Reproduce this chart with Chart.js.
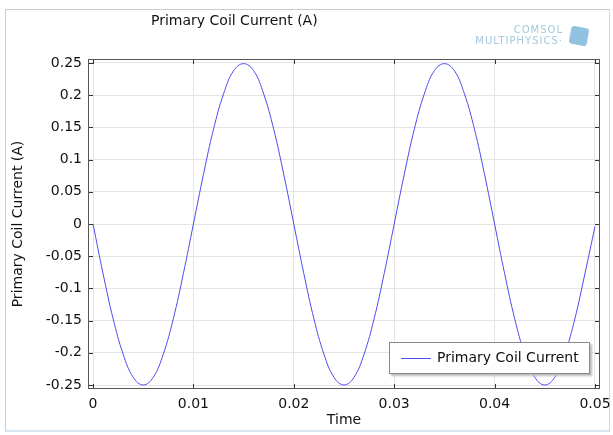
<!DOCTYPE html>
<html>
<head>
<meta charset="utf-8">
<script src="https://cdn.jsdelivr.net/npm/chart.js@4/dist/chart.umd.min.js"></script>
<style>
  html, body { margin: 0; padding: 0; background: #fff; }
  #wrap { position: relative; width: 613px; height: 435px; overflow: hidden; font-family: "DejaVu Sans", sans-serif; }
  #frame { position: absolute; left: 5px; top: 9px; width: 603px; height: 420px; border-left: 1px solid #c8ccd2; border-right: 1px solid #d4d8de; border-top: 1px solid #c8ccd2; border-bottom: 2px solid #d6e6f2; }
  #title { position: absolute; left: 151px; top: 12px; font-size: 14px; color: #111; }
  #logo { position: absolute; right: 50px; top: 24px; color: #a3c8de; font-size: 10px; line-height: 11px; text-align: right; letter-spacing: 1px; }
  #cube { position: absolute; left: 570px; top: 27px; width: 18px; height: 18px; background: #80b6da; transform: rotate(10deg); border-radius: 3px; opacity: 0.85; }
  #legend { position: absolute; left: 389px; top: 342px; width: 199px; height: 30px; border: 1px solid #888; background: #fff; box-shadow: 2px 2px 2px #bbb; font-size: 14px; color: #111; }
  #legend .sw { position: absolute; left: 11px; top: 15px; width: 30px; height: 0; border-top: 1px solid #4a4cf0; }
  #legend .tx { position: absolute; left: 47px; top: 6px; }
  canvas { position: absolute; left: 0; top: 0; }
</style>
</head>
<body>
<div id="wrap">
  <div id="frame"></div>
  <canvas id="myChart" width="613" height="435"></canvas>
  <div id="title">Primary Coil Current (A)</div>
  <div id="logo">COMSOL<br>MULTIPHYSICS&middot;</div>
  <div id="cube"></div>
  <div id="legend"><div class="sw"></div><div class="tx">Primary Coil Current</div></div>
</div>
<script>
const seriesLabel = "Primary Coil Current";
const times = [0, 0.001, 0.002, 0.003, 0.004, 0.005, 0.006, 0.007, 0.008, 0.009,
  0.010, 0.011, 0.012, 0.013, 0.014, 0.015, 0.016, 0.017, 0.018, 0.019,
  0.020, 0.021, 0.022, 0.023, 0.024, 0.025, 0.026, 0.027, 0.028, 0.029,
  0.030, 0.031, 0.032, 0.033, 0.034, 0.035, 0.036, 0.037, 0.038, 0.039,
  0.040, 0.041, 0.042, 0.043, 0.044, 0.045, 0.046, 0.047, 0.048, 0.049, 0.050];
const current = [0, -0.077, -0.147, -0.202, -0.238, -0.250, -0.238, -0.202, -0.147, -0.077,
  0.000, 0.077, 0.147, 0.202, 0.238, 0.249, 0.238, 0.202, 0.147, 0.077,
  0.000, -0.077, -0.147, -0.202, -0.238, -0.250, -0.238, -0.202, -0.147, -0.077,
  0.000, 0.077, 0.147, 0.202, 0.238, 0.249, 0.238, 0.202, 0.147, 0.077,
  0.000, -0.077, -0.147, -0.202, -0.238, -0.250, -0.238, -0.202, -0.147, -0.077, -0.004];
const xTicks = [0, 0.01, 0.02, 0.03, 0.04, 0.05];
const yTicks = [-0.25, -0.2, -0.15, -0.1, -0.05, 0, 0.05, 0.1, 0.15, 0.2, 0.25];

const points = times.map((t, i) => ({x: t, y: current[i]}));

// small inward tick marks on all four sides, like the COMSOL plot
const innerTicks = {
  id: "innerTicks",
  afterDraw(chart) {
    const {ctx, chartArea: a, scales} = chart;
    ctx.save();
    ctx.strokeStyle = "#333";
    ctx.lineWidth = 1;
    ctx.beginPath();
    xTicks.forEach(v => {
      const px = Math.round(scales.x.getPixelForValue(v)) + 0.5;
      ctx.moveTo(px, a.bottom); ctx.lineTo(px, a.bottom - 5);
      ctx.moveTo(px, a.top); ctx.lineTo(px, a.top + 5);
    });
    yTicks.forEach(v => {
      const py = Math.round(scales.y.getPixelForValue(v)) + 0.5;
      ctx.moveTo(a.left, py); ctx.lineTo(a.left + 5, py);
      ctx.moveTo(a.right, py); ctx.lineTo(a.right - 5, py);
    });
    ctx.stroke();
    ctx.strokeStyle = "#555";
    ctx.strokeRect(a.left + 0.5, a.top + 0.5, a.right - a.left - 1, a.bottom - a.top - 1);
    ctx.restore();
  }
};

new Chart(document.getElementById("myChart"), {
  type: "line",
  data: {
    datasets: [{
      label: seriesLabel,
      data: points,
      borderColor: "#4a4cf0",
      borderWidth: 1,
      pointRadius: 0,
      tension: 0.4,
      fill: false
    }]
  },
  options: {
    responsive: false,
    animation: false,
    layout: { padding: { left: 10, right: 13, top: 59, bottom: 0 } },
    plugins: { legend: { display: false }, tooltip: { enabled: false } },
    scales: {
      x: {
        type: "linear",
        min: -0.0005,
        max: 0.0505,
        afterBuildTicks: s => { s.ticks = xTicks.map(v => ({value: v})); },
        afterFit: s => { s.height = 46; s.paddingLeft = 0; s.paddingRight = 0; },
        grid: { color: "#e4e4e4", tickLength: 0, drawTicks: false },
        border: { display: false },
        ticks: { color: "#111", font: { family: "DejaVu Sans", size: 14 }, padding: 7, maxRotation: 0,
          callback: v => String(v) },
        title: { display: true, text: "Time", color: "#111", font: { family: "DejaVu Sans", size: 14 }, padding: { top: 0, bottom: 6 } }
      },
      y: {
        min: -0.2562,
        max: 0.2562,
        afterBuildTicks: s => { s.ticks = yTicks.map(v => ({value: v})); },
        afterFit: s => { s.width = 78; s.paddingTop = 0; s.paddingBottom = 0; },
        grid: { color: "#e4e4e4", tickLength: 0, drawTicks: false },
        border: { display: false },
        ticks: { color: "#111", font: { family: "DejaVu Sans", size: 14 }, padding: 6,
          callback: v => String(v) },
        title: { display: true, text: "Primary Coil Current (A)", color: "#111", font: { family: "DejaVu Sans", size: 14 }, padding: { top: 0, bottom: 4 } }
      }
    }
  },
  plugins: [innerTicks]
});
</script>
</body>
</html>
